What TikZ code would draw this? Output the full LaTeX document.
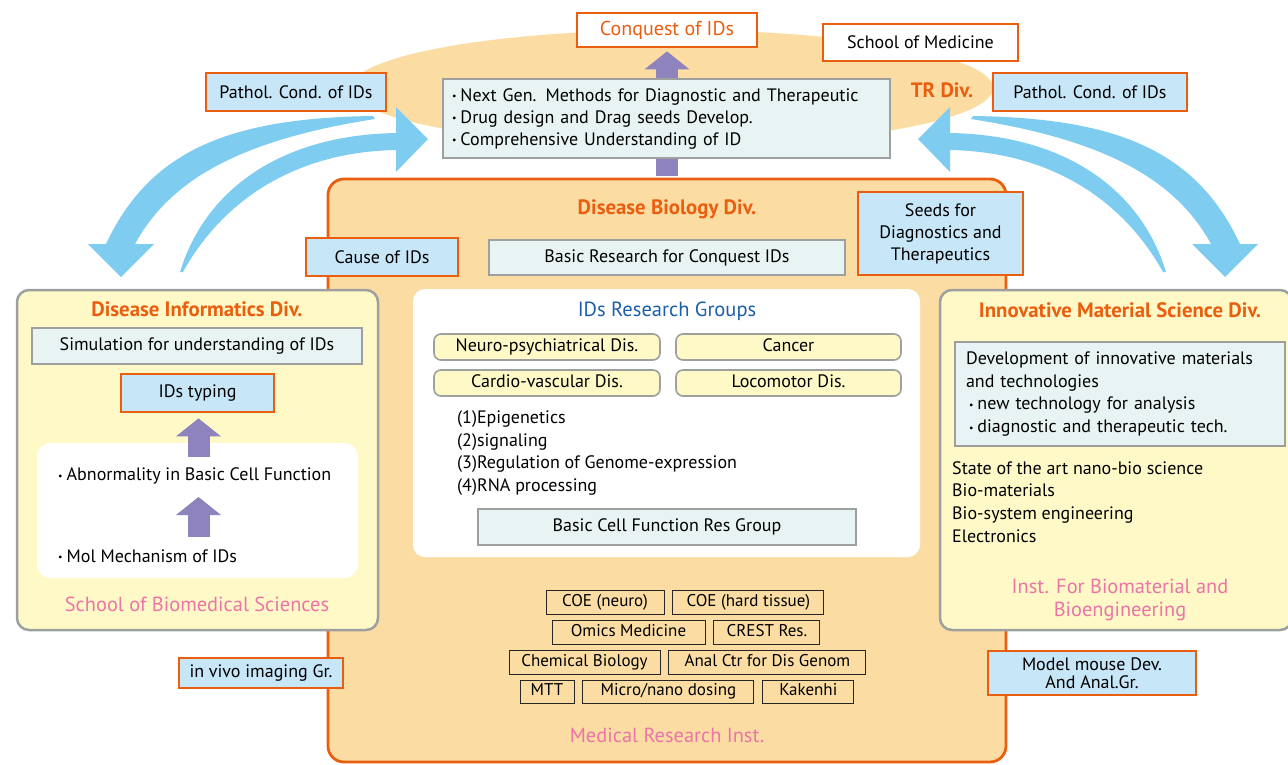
\documentclass[tikz,border=0pt]{standalone}
\usepackage{fontspec}
\setmainfont{PT Sans}
\usetikzlibrary{positioning,shapes.geometric,arrows.meta}

\definecolor{orng}{RGB}{234,94,16}
\definecolor{tanbg}{RGB}{251,221,164}
\definecolor{ltblue}{RGB}{199,230,248}
\definecolor{ltcyan}{RGB}{232,244,244}
\definecolor{greyln}{RGB}{158,160,160}
\definecolor{ltyel}{RGB}{255,249,199}
\definecolor{purp}{RGB}{142,131,189}
\definecolor{skyarr}{RGB}{127,204,241}
\definecolor{pinktxt}{RGB}{236,116,166}
\definecolor{grpblue}{RGB}{28,94,172}

\newcommand{\fsz}[2]{\fontsize{#1}{#2}\selectfont}
\newcommand{\bul}{\raisebox{0.15ex}{\scalebox{0.55}{\textbullet}}\hspace{4pt}}

% the two wide blue arrows of one side
\newcommand{\skypair}{%
  \fill[skyarr] (373,116) .. controls (230,118) and (150,150) .. (106,244)
    -- (88,244) -- (121,277) -- (154,244) -- (135,244)
    .. controls (170,180) and (240,140) .. (375,119) -- cycle;
  \fill[skyarr] (180,272) .. controls (205,190) and (280,135) .. (396,133)
    -- (396,107) -- (428,139) -- (396,172) -- (396,150)
    .. controls (290,152) and (220,205) .. (183,272) -- cycle;
}

\begin{document}
\begin{tikzpicture}[
    x=1pt, y=-1pt,
    node distance=8pt,
    orbox/.style={draw=orng, line width=2.8pt, fill=ltblue, inner sep=2pt, align=center, font=\fsz{18}{22}},
    whbox/.style={orbox, fill=white},
    gbox/.style={draw=greyln, line width=1.4pt, fill=ltcyan, align=center, font=\fsz{18}{22}},
    ybox/.style={draw=greyln, line width=1.6pt, fill=ltyel, rounded corners=7pt, minimum width=226pt, minimum height=26pt,
        text height=12.5pt, text depth=3.5pt, inner ysep=0pt, font=\fsz{18}{20}},
    tbox/.style={draw=black!85, line width=0.9pt, fill=tanbg, minimum height=24pt, inner sep=0pt,
        text height=12pt, text depth=3.5pt, font=\fsz{17}{18}},
    divbox/.style={draw=greyln, line width=2.5pt, fill=ltyel, rounded corners=12pt},
    divtitle/.style={text=orng, font=\bfseries\fsz{20.8}{22}},
    insttxt/.style={text=pinktxt, font=\fsz{20.4}{23}, align=center},
    plain/.style={align=left, font=\fsz{18}{22.7}, inner sep=0pt},
    bigup/.style={draw=purp, line width=22pt, -{Triangle[length=18pt,width=45pt,line width=0pt]}}
]
    \useasboundingbox (0,0) rectangle (1288,764);

    % TR division
    \node[ellipse, fill=tanbg, minimum width=642pt, minimum height=116pt] (trdiv) at (672,88) {};
    \node[divtitle] (trname) at (942,90) {TR Div.};

    % Blue arrows
    \skypair
    \begin{scope}[shift={(1346,0)}, xscale=-1]
        \skypair
    \end{scope}

    % Top boxes
    \node[whbox, text=orng, font=\fsz{20}{22}, minimum width=180pt, minimum height=34pt] (conq) at (667,30) {Conquest of IDs};
    \node[whbox, minimum width=195pt, minimum height=37pt] (school) at (920.5,42.5) {School of Medicine};
    \node[orbox, minimum width=180pt, minimum height=38pt] (pathL) at (296,92) {Pathol. Cond. of IDs};
    \node[orbox, minimum width=194pt, minimum height=38pt] (pathR) at (1090,92) {Pathol. Cond. of IDs};

    % Disease Biology Div.
    \node[draw=orng, line width=2.8pt, fill=tanbg, rounded corners=16pt, minimum width=678pt, minimum height=583pt] (bio) at (667,470.5) {};
    \draw[bigup, shorten <=1.4pt, shorten >=3pt] (bio.north) -- (conq.south);
    \node[gbox, align=left, text width=429pt, inner sep=9pt, minimum height=73pt, font=\fsz{18}{22}] (goals) at (666.5,118.5)
        {\bul Next Gen. Methods for Diagnostic and Therapeutic\\
         \bul Drug design and Drag seeds Develop.\\
         \bul Comprehensive Understanding of ID};

    \node[divtitle] (bioname) at (667,209) {Disease Biology Div.};
    \node[orbox, minimum width=152pt, minimum height=38pt] (cause) at (382,257) {Cause of IDs};
    \node[gbox, minimum width=356pt, minimum height=35pt] (basicres) at (667,257.5) {Basic Research for Conquest IDs};
    \node[orbox, minimum width=165pt, minimum height=83pt] (seeds) at (940.5,233.5) {Seeds for\\Diagnostics and\\Therapeutics};

    % IDs research groups
    \node[fill=white, rounded corners=12pt, minimum width=507pt, minimum height=268pt] (groups) at (666.5,423) {};
    \node[text=grpblue, font=\fsz{20.5}{22}] (grpname) at (667,311) {IDs Research Groups};
    \node[ybox] (neuro) at (547,347) {Neuro-psychiatrical Dis.};
    \node[ybox, minimum width=225pt] (cancer) at (788.5,347) {Cancer};
    \node[ybox] (cardio) at (547,383) {Cardio-vascular Dis.};
    \node[ybox, minimum width=225pt] (loco) at (788.5,383) {Locomotor Dis.};
    \node[plain, anchor=west] (topics) at (457,453)
        {(1)Epigenetics\\(2)signaling\\(3)Regulation of Genome-expression\\(4)RNA processing};
    \node[gbox, minimum width=378pt, minimum height=36pt] (basiccell) at (667,527) {Basic Cell Function Res Group};

    % Centres and projects
    \node[tbox, minimum width=118pt] (coeneuro) at (605,602) {COE (neuro)};
    \node[tbox, minimum width=151pt, right=of coeneuro] (coehard) {COE (hard tissue)};
    \node[tbox, minimum width=153pt] (omics) at (628.5,632) {Omics Medicine};
    \node[tbox, minimum width=106pt, right=of omics] (crest) {CREST Res.};
    \node[tbox, minimum width=151pt] (chembio) at (584.5,662) {Chemical Biology};
    \node[tbox, minimum width=197pt, right=of chembio] (analctr) {Anal Ctr for Dis Genom};
    \node[tbox, minimum width=54pt, minimum height=23pt] (mtt) at (547,691.5) {MTT};
    \node[tbox, minimum width=171pt, minimum height=23pt, right=of mtt] (micro) {Micro/nano dosing};
    \node[tbox, minimum width=91pt, minimum height=23pt, right=of micro] (kakenhi) {Kakenhi};
    \node[insttxt] (mri) at (667,735) {Medical Research Inst.};

    % Disease Informatics Div.
    \node[divbox, minimum width=361pt, minimum height=340pt] (infodiv) at (197.5,460) {};
    \node[divtitle] (infoname) at (197,309) {Disease Informatics Div.};
    \node[gbox, minimum width=330pt, minimum height=36pt] (simul) at (197,346) {Simulation for understanding of IDs};
    \node[orbox, minimum width=153pt, minimum height=38pt] (typing) at (197.5,393) {IDs typing};
    \node[fill=white, rounded corners=14pt, minimum width=321pt, minimum height=135pt] (mech) at (197.5,510.5) {};
    \node[plain, anchor=west] (abnorm) at (58,476) {\bul Abnormality in Basic Cell Function};
    \node[plain, anchor=west] (molmech) at (58,556) {\bul Mol Mechanism of IDs};
    \coordinate (upA) at (198.5,457);
    \coordinate (upB) at (198.5,537);
    \coordinate (upBend) at (198.5,497);
    \draw[bigup, shorten >=5pt] (upA) -- (typing.south -| upA);
    \draw[bigup] (upB) -- (upBend);
    \node[insttxt] (sbs) at (197,604) {School of Biomedical Sciences};

    % Innovative Material Science Div.
    \node[divbox, minimum width=352pt, minimum height=340pt] (matdiv) at (1116,460) {};
    \node[divtitle] (matname) at (1120,310) {Innovative Material Science Div.};
    \node[gbox, align=left, text width=308pt, inner xsep=11pt, minimum height=104pt, font=\fsz{18}{22.7}] (devel) at (1120,394)
        {Development of innovative materials\\and technologies\\
         \hspace*{3pt}\bul new technology for analysis\\
         \hspace*{3pt}\bul diagnostic and therapeutic tech.};
    \node[plain, anchor=west] (fields) at (952,502)
        {State of the art nano-bio science\\Bio-materials\\Bio-system engineering\\Electronics};
    \node[insttxt] (ibb) at (1120,599.5) {Inst. For Biomaterial and\\Bioengineering};

    % Groups at the bottom
    \node[orbox, minimum width=164pt, minimum height=30pt] (invivo) at (261,673) {in vivo imaging Gr.};
    \node[orbox, minimum width=208pt, minimum height=44pt, font=\fsz{18}{18}] (mouse) at (1092,673) {Model mouse Dev.\\And Anal.Gr.};
\end{tikzpicture}
\end{document}
